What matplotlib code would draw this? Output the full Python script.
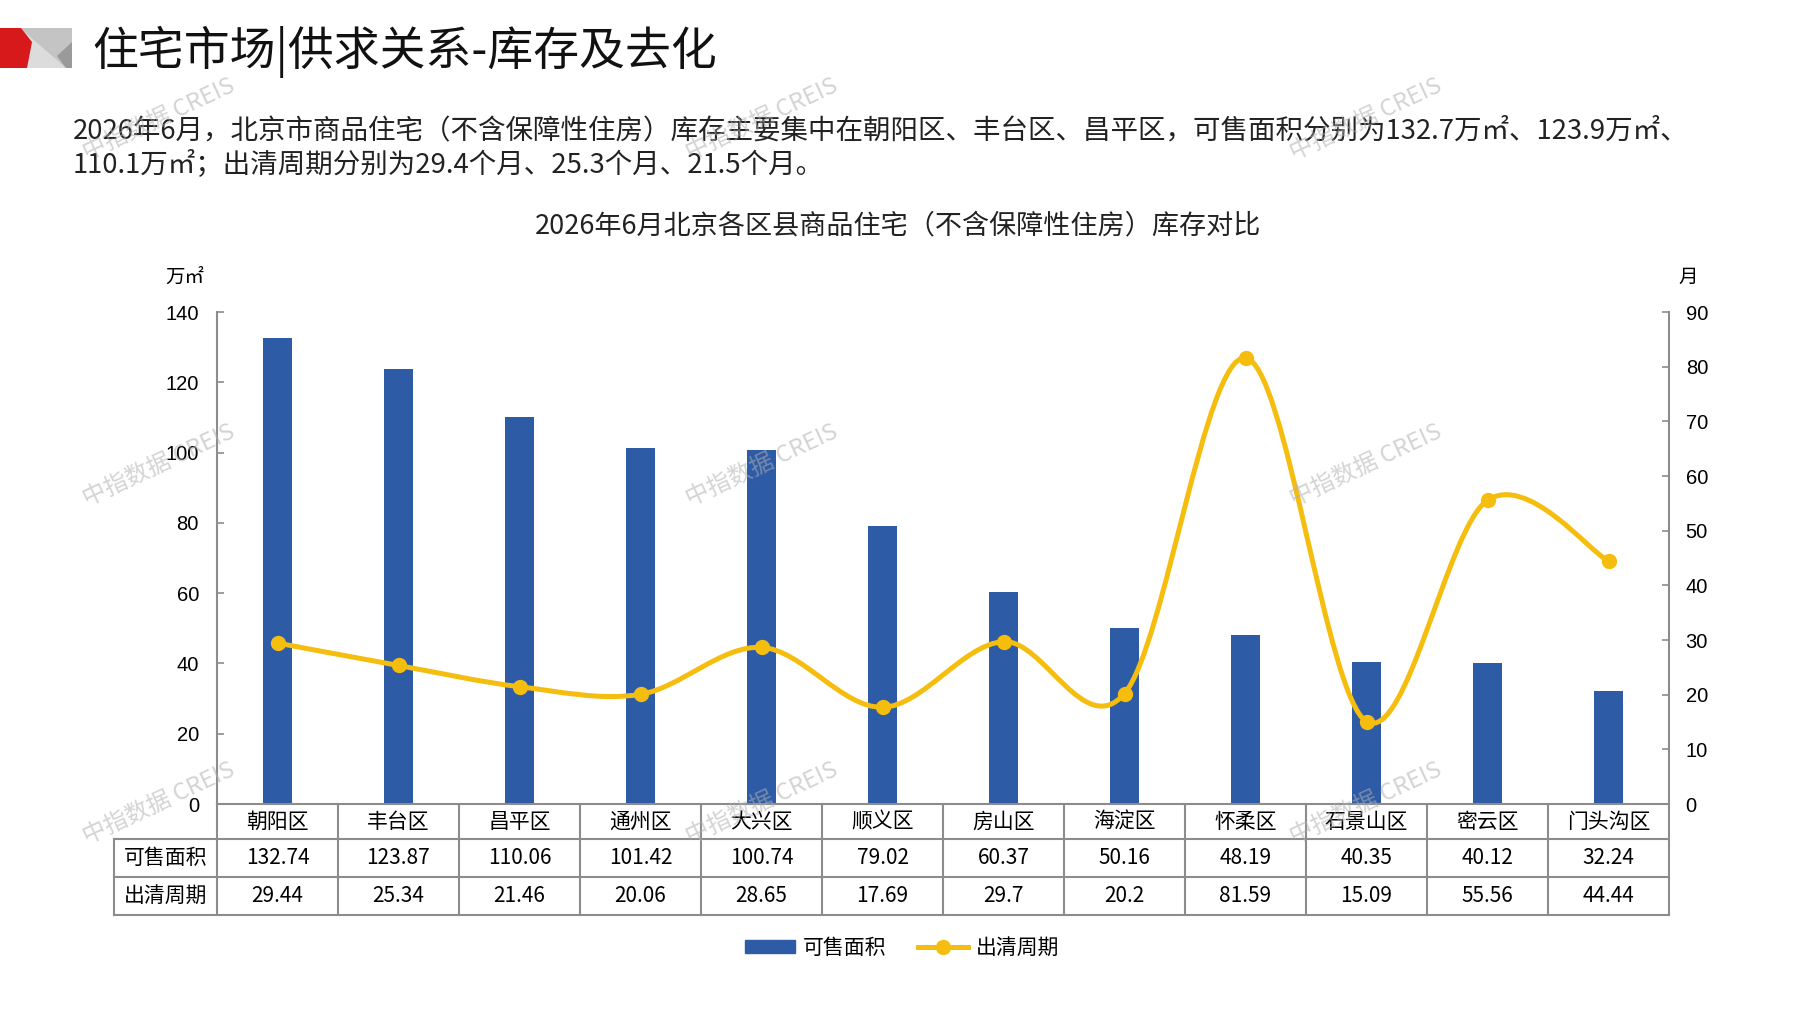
import matplotlib
matplotlib.use('Agg')
import matplotlib.pyplot as plt
import matplotlib.patches as mpatches
from matplotlib.path import Path
from matplotlib.lines import Line2D
import numpy as np

plt.rcParams['font.family'] = ['Noto Sans CJK SC', 'DejaVu Sans']

districts = ['朝阳区', '丰台区', '昌平区', '通州区', '大兴区', '顺义区',
             '房山区', '海淀区', '怀柔区', '石景山区', '密云区', '门头沟区']
area = [132.74, 123.87, 110.06, 101.42, 100.74, 79.02, 60.37, 50.16, 48.19, 40.35, 40.12, 32.24]
months = [29.44, 25.34, 21.46, 20.06, 28.65, 17.69, 29.7, 20.2, 81.59, 15.09, 55.56, 44.44]
row_names = ['可售面积', '出清周期']
left_ticks = [0, 20, 40, 60, 80, 100, 120, 140]
right_ticks = [0, 10, 20, 30, 40, 50, 60, 70, 80, 90]

W, H = 1797, 1010
BLUE = '#2E5BA6'
GOLD = '#F5BD0E'
GRID = '#8C8C8C'

# plot area in pixels
X0, X1, Y0, Y1 = 217, 1669, 312, 804

fig = plt.figure(figsize=(W / 100, H / 100), dpi=100)

def fx(x):
    return x / W

def fy(y):
    return 1 - y / H

# background layer in pixel coordinates (logo, headings)
bg = fig.add_axes([0, 0, 1, 1], zorder=-1)
bg.set_xlim(0, W)
bg.set_ylim(H, 0)
bg.axis('off')
bg.add_patch(mpatches.Polygon([(20, 28), (72, 28), (72, 68), (20, 68)], color='#C4C4C4', lw=0))
bg.add_patch(mpatches.Polygon([(20, 28), (66, 68), (20, 68)], color='#DCDCDC', lw=0))
bg.add_patch(mpatches.Polygon([(57, 56), (72, 42), (72, 68), (66, 68)], color='#9A9A9A', lw=0))
bg.add_patch(mpatches.Polygon([(0, 28), (21, 28), (32, 42), (27, 68), (0, 68)], color='#D7191C', lw=0))

fig.text(fx(92), fy(52), '住宅市场|供求关系-库存及去化', fontsize=33, va='center', ha='left', color='#111111')
fig.text(fx(73), fy(131),
         '2026年6月，北京市商品住宅（不含保障性住房）库存主要集中在朝阳区、丰台区、昌平区，可售面积分别为132.7万㎡、123.9万㎡、',
         fontsize=19.8, va='center', ha='left', color='#222222')
fig.text(fx(73), fy(165), '110.1万㎡；出清周期分别为29.4个月、25.3个月、21.5个月。',
         fontsize=19.8, va='center', ha='left', color='#222222')
fig.text(fx(898), fy(226), '2026年6月北京各区县商品住宅（不含保障性住房）库存对比',
         fontsize=19.5, va='center', ha='center', color='#222222')
fig.text(fx(185), fy(277), '万㎡', fontsize=14, va='center', ha='center')
fig.text(fx(1688), fy(277), '月', fontsize=14, va='center', ha='center')

# main chart
ax = fig.add_axes([fx(X0), fy(Y1), fx(X1) - fx(X0), (Y1 - Y0) / H])
x = np.arange(len(districts))
ax.bar(x, area, width=0.245, color=BLUE, zorder=2)
ax.set_xlim(-0.5, len(districts) - 0.5)
ax.set_ylim(0, 140)
ax.set_yticks(left_ticks, [str(t) for t in left_ticks], fontfamily='Liberation Sans', fontsize=14.5)
ax.set_xticks([])
ax.tick_params(axis='y', direction='in', length=5, width=1.2, color=GRID, pad=13)
for s in ['top', 'right']:
    ax.spines[s].set_visible(False)
for s in ['left', 'bottom']:
    ax.spines[s].set_color(GRID)
    ax.spines[s].set_linewidth(1.5)

ax2 = ax.twinx()
ax2.set_ylim(0, 90)
ax2.set_yticks(right_ticks, [str(t) for t in right_ticks], fontfamily='Liberation Sans', fontsize=14.5)
ax2.tick_params(axis='y', direction='in', length=5, width=1.2, color=GRID, pad=12)
for s in ['top', 'left', 'bottom']:
    ax2.spines[s].set_visible(False)
ax2.spines['right'].set_color(GRID)
ax2.spines['right'].set_linewidth(1.5)

# smoothed line (Bezier through the points, like Excel smoothing)
pts = np.column_stack([x, months]).astype(float)
n = len(pts)
verts = [tuple(pts[0])]
codes = [Path.MOVETO]
for i in range(n - 1):
    p0 = pts[max(i - 1, 0)]
    p1 = pts[i]
    p2 = pts[i + 1]
    p3 = pts[min(i + 2, n - 1)]
    c1 = p1 + (p2 - p0) / 6
    c2 = p2 - (p3 - p1) / 6
    verts += [tuple(c1), tuple(c2), tuple(p2)]
    codes += [Path.CURVE4] * 3
ax2.add_patch(mpatches.PathPatch(Path(verts, codes), fill=False, edgecolor=GOLD, lw=3.6,
                                 capstyle='round', joinstyle='round', zorder=3))
ax2.plot(x, months, 'o', color=GOLD, ms=10, zorder=4)

# data table below the axis
tr = ax.get_xaxis_transform()
plot_h = Y1 - Y0
col_w = (X1 - X0) / len(districts)
row_h = [-35 / plot_h, -73 / plot_h, -111 / plot_h]
lab_left = -0.5 - (X0 - 114) / col_w
line_kw = dict(transform=tr, color=GRID, lw=1.5, clip_on=False)
for i in range(len(districts) + 1):
    ax.plot([i - 0.5, i - 0.5], [0, row_h[2]], **line_kw)
ax.plot([lab_left, lab_left], [row_h[0], row_h[2]], **line_kw)
for yy in row_h:
    ax.plot([lab_left, len(districts) - 0.5], [yy, yy], **line_kw)

row_mid = [row_h[0] / 2, (row_h[0] + row_h[1]) / 2, (row_h[1] + row_h[2]) / 2]
for i, d in enumerate(districts):
    ax.text(i, row_mid[0], d, transform=tr, ha='center', va='center', fontsize=15)
    ax.text(i, row_mid[1], f'{area[i]:g}', transform=tr, ha='center', va='center', fontsize=15)
    ax.text(i, row_mid[2], f'{months[i]:g}', transform=tr, ha='center', va='center', fontsize=15)
for j, name in enumerate(row_names):
    ax.text((lab_left - 0.5) / 2, row_mid[j + 1], name, transform=tr, ha='center', va='center', fontsize=15)

handles = [mpatches.Patch(color=BLUE, label='可售面积'),
           Line2D([0], [0], color=GOLD, lw=3.6, marker='o', ms=10, label='出清周期')]
fig.legend(handles=handles, loc='center', bbox_to_anchor=(fx(902), fy(948)), ncol=2,
           frameon=False, fontsize=15, handlelength=2.4, handleheight=0.6, columnspacing=1.5,
           handletextpad=0.4)

# watermarks
for wy in [119, 465, 803]:
    for wx in [159, 762, 1366]:
        fig.text(fx(wx), fy(wy), '中指数据 CREIS', fontsize=17, rotation=25, color='#B0B0B0',
                 alpha=0.55, ha='center', va='center', family=['Noto Sans CJK SC', 'Liberation Sans'])

fig.savefig('out.png', dpi=100)
